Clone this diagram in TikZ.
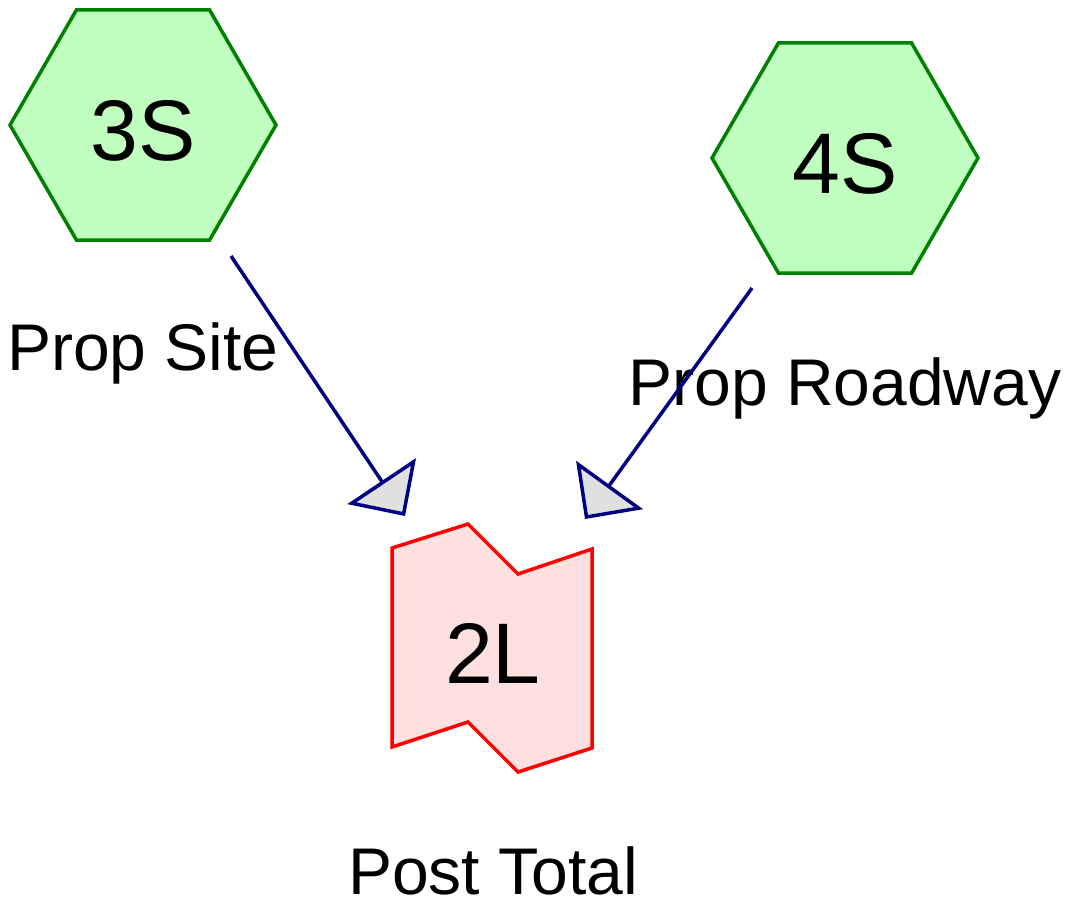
\documentclass[tikz,border=0pt]{standalone}
\usepackage{fontspec}
\setmainfont{Liberation Sans}
\usetikzlibrary{arrows.meta,shapes.geometric}

\definecolor{subfill}{RGB}{192,255,192}
\definecolor{subline}{RGB}{0,128,0}
\definecolor{pondfill}{RGB}{255,224,224}
\definecolor{pondline}{RGB}{255,0,0}
\definecolor{linkline}{RGB}{0,0,128}
\definecolor{tipfill}{RGB}{224,224,224}

\tikzset{
  subcat/.style={regular polygon, regular polygon sides=6, minimum size=266pt,
    inner sep=0pt, outer sep=0pt, draw=subline, fill=subfill, line width=3.5pt},
  pond/.style={draw=pondline, fill=pondfill, line width=3.5pt, line join=miter},
  idtext/.style={anchor=base, inner sep=0pt, font=\fontsize{86}{100}\selectfont},
  captext/.style={anchor=base, inner sep=0pt, text depth=0pt,
    font=\fontsize{66}{80}\selectfont},
  link/.style={draw=linkline, line width=3.5pt,
    -{Triangle[length=42pt, width=82pt, fill=tipfill]}},
}

\begin{document}
\begin{tikzpicture}[x=1pt, y=-1pt]
\useasboundingbox (0,0) rectangle (1071,903);

% subcatchments
\node[subcat] (s3) at (143,125) {};
\node[subcat] (s4) at (845,158) {};
\node[idtext] (s3id) at (143,160) {3S};
\node[idtext] (s4id) at (845,193) {4S};
\node[captext] (s3cap) at (143,370) {Prop Site};
\node[captext] (s4cap) at (845,405) {Prop Roadway};

% link node
\draw[pond] (392,548) -- (468,524) -- (518,574) -- (592,549) -- (592,748)
  -- (518,772) -- (468,722) -- (392,747) -- cycle;
\node[idtext] (l2id) at (493,683) {2L};
\node[captext] (l2cap) at (493,894) {Post Total};

% connectors
\coordinate (a3) at (231,256);
\coordinate (t3) at (405,516);
\coordinate (a4) at (752,288);
\coordinate (t4) at (585,519);
\draw[link] (a3) -- (t3);
\draw[link] (a4) -- (t4);
\end{tikzpicture}
\end{document}
